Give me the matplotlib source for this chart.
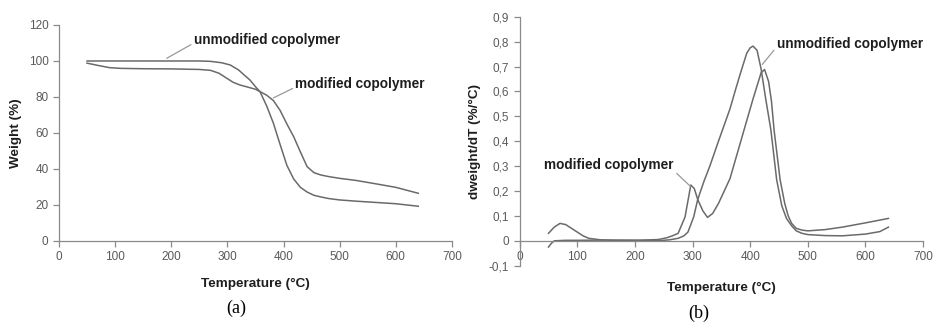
import matplotlib
matplotlib.use("Agg")
import matplotlib.pyplot as plt

plt.rcParams['font.family'] = ['Liberation Sans', 'DejaVu Sans']

# (a) TGA weight curves
temp_unmod_a = [50, 100, 150, 200, 250, 270, 290, 305, 320, 330, 340, 352, 358, 370,
                382, 394, 406, 418, 430, 442, 454, 466, 480, 500, 530, 560, 600, 640]
weight_unmod = [100, 100, 100, 100, 100, 99.8, 99.0, 97.8, 95.0, 92.2, 89.5, 85.0, 83.0, 75.0,
                65.4, 53.5, 42.0, 34.5, 29.8, 27.2, 25.4, 24.5, 23.6, 22.8, 22.1, 21.5, 20.7, 19.3]
temp_mod_a = [50, 70, 90, 110, 150, 200, 250, 270, 285, 299, 310, 322, 335, 350, 358,
              370, 382, 394, 406, 418, 430, 442, 454, 466, 480, 500, 530, 560, 600, 640]
weight_mod = [98.8, 97.5, 96.3, 95.9, 95.7, 95.6, 95.3, 94.8, 93.2, 90.4, 88.2, 86.7, 85.6, 84.3, 83.0,
              81.0, 78.0, 72.5, 65.0, 58.0, 49.5, 41.3, 38.0, 36.7, 35.8, 34.8, 33.6, 32.0, 29.8, 26.5]

# (b) DTG curves
temp_unmod_b = [50, 55, 60, 80, 100, 150, 200, 240, 260, 275, 285, 292, 302, 309, 320, 330,
                345, 355, 365, 375, 383, 394, 400, 405, 412, 419, 427, 436, 446, 455, 463,
                472, 480, 490, 500, 530, 560, 600, 625, 640]
dtg_unmod = [-0.025, -0.01, 0.0, 0.002, 0.002, 0.003, 0.002, 0.0, 0.004, 0.01, 0.02, 0.035, 0.096, 0.166, 0.24, 0.30,
             0.40, 0.465, 0.53, 0.61, 0.672, 0.753, 0.775, 0.782, 0.765, 0.69, 0.57, 0.445, 0.245, 0.14, 0.09,
             0.06, 0.04, 0.03, 0.025, 0.021, 0.02, 0.027, 0.037, 0.055]
temp_mod_b = [50, 60, 70, 80, 90, 100, 110, 120, 140, 160, 200, 240, 255, 265, 275, 287, 292,
              297, 303, 309, 318, 326, 335, 345, 355, 365, 375, 385, 395, 405, 413, 419,
              425, 432, 437, 441.5, 452, 460, 466, 472, 480, 490, 500, 530, 560, 600, 640]
dtg_mod = [0.03, 0.055, 0.07, 0.065, 0.05, 0.035, 0.02, 0.01, 0.004, 0.002, 0.002, 0.005, 0.012, 0.02, 0.03, 0.096, 0.16,
           0.224, 0.21, 0.166, 0.12, 0.094, 0.11, 0.15, 0.2, 0.25, 0.33, 0.41, 0.49, 0.57, 0.63, 0.675,
           0.688, 0.64, 0.56, 0.445, 0.245, 0.15, 0.1, 0.07, 0.05, 0.043, 0.04, 0.045, 0.055, 0.072, 0.09]

xticks = [0, 100, 200, 300, 400, 500, 600, 700]
yticks_a = [0, 20, 40, 60, 80, 100, 120]
yticks_b = [-0.1, 0, 0.1, 0.2, 0.3, 0.4, 0.5, 0.6, 0.7, 0.8, 0.9]
ylabels_b = ['-0,1', '0', '0,1', '0,2', '0,3', '0,4', '0,5', '0,6', '0,7', '0,8', '0,9']

line_col = '#6a6a6a'
tick_col = '#5a5a5a'
spine_col = '#8a8a8a'
txt_col = '#1e1e1e'
lab_size = 9.7
ann_size = 9.8


def style_axes(ax):
    for s in ['top', 'right']:
        ax.spines[s].set_visible(False)
    for s in ['left', 'bottom']:
        ax.spines[s].set_color(spine_col)
        ax.spines[s].set_linewidth(0.9)
    ax.tick_params(colors=spine_col, labelcolor=tick_col, labelsize=8.5,
                   length=4, width=0.9, direction='out')


def label_note(ax, text, xy, xytext, relpos):
    ax.annotate(text, xy=xy, xytext=xytext,
                fontsize=ann_size, fontweight='bold', color=txt_col, va='center', ha='left',
                arrowprops=dict(arrowstyle='-', color='#999999', lw=0.9, shrinkA=0, shrinkB=0,
                                relpos=relpos))


fig = plt.figure(figsize=(9.33, 3.22), dpi=100)

# panel (a)
ax1 = fig.add_axes([0.0632, 0.2516, 0.4212, 0.6708])
ax1.plot(temp_unmod_a, weight_unmod, color=line_col, lw=1.1)
ax1.plot(temp_mod_a, weight_mod, color=line_col, lw=1.1)
ax1.set_xlim(0, 700)
ax1.set_ylim(0, 120)
ax1.set_xticks(xticks)
ax1.set_yticks(yticks_a)
style_axes(ax1)
ax1.set_xlabel('Temperature (°C)', fontsize=lab_size, fontweight='bold', color=txt_col)
ax1.xaxis.set_label_coords(0.5, -0.17)
ax1.set_ylabel('Weight (%)', fontsize=lab_size, fontweight='bold', color=txt_col)
ax1.yaxis.set_label_coords(-0.094, 0.5)
label_note(ax1, 'unmodified copolymer', (192, 101.5), (240, 111.5), (0, 0.3))
label_note(ax1, 'modified copolymer', (382, 79.5), (421, 87), (0, 0.3))
fig.text(236 / 933, 1 - 308 / 322, '(a)', family='Liberation Serif', fontsize=13,
         ha='center', va='center', color='black')

# panel (b)
ax2 = fig.add_axes([0.557, 0.1748, 0.4323, 0.7733])
ax2.plot(temp_unmod_b, dtg_unmod, color=line_col, lw=1.1)
ax2.plot(temp_mod_b, dtg_mod, color=line_col, lw=1.1)
ax2.set_xlim(0, 700)
ax2.set_ylim(-0.1, 0.9)
ax2.set_xticks(xticks)
ax2.set_yticks(yticks_b)
ax2.set_yticklabels(ylabels_b)
style_axes(ax2)
ax2.spines['bottom'].set_position(('data', 0))
ax2.set_ylabel('dweight/dT (%/°C)', fontsize=lab_size, fontweight='bold', color=txt_col)
ax2.yaxis.set_label_coords(-0.096, 0.5)
fig.text(721 / 933, 1 - 288 / 322, 'Temperature (°C)', fontsize=lab_size, fontweight='bold',
         color=txt_col, ha='center', va='center')
label_note(ax2, 'unmodified copolymer', (421, 0.708), (446, 0.79), (0, 0.3))
label_note(ax2, 'modified copolymer', (297, 0.217), (43, 0.304), (1, 0.1))
fig.text(699 / 933, 1 - 313 / 322, '(b)', family='Liberation Serif', fontsize=13,
         ha='center', va='center', color='black')

fig.savefig('out.png', dpi=100)
